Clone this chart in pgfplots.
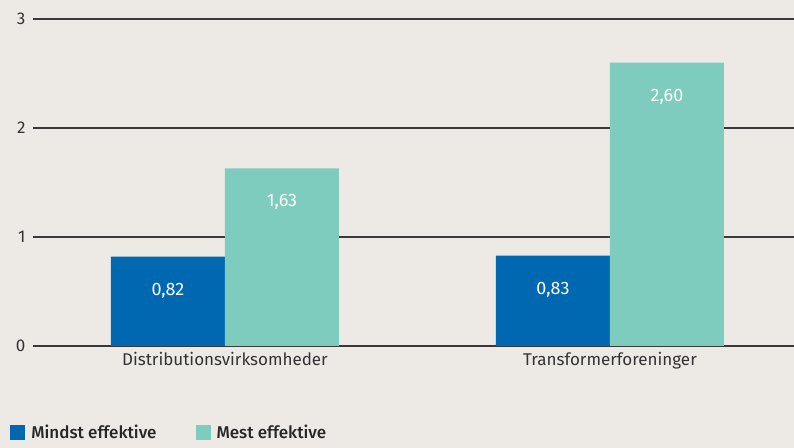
\documentclass[border=0pt]{standalone}
\usepackage{pgfplots}
\pgfplotsset{compat=1.18}
\usepackage{fontspec}
\setmainfont{Fira Sans}
\newfontfamily\medfont{Fira Sans}[UprightFont={* Medium}]
\definecolor{bg}{HTML}{EDEAE5}
\definecolor{mindst}{HTML}{0068B1}
\definecolor{mest}{HTML}{7DCCBE}
\definecolor{gridc}{HTML}{3A3838}
\begin{document}
\begin{tikzpicture}
  \fill[bg] (0,0) rectangle (794bp,448bp);
  \useasboundingbox (0,0) rectangle (794bp,448bp);
  \begin{axis}[
      at={(33bp,102bp)}, anchor=south west,
      scale only axis,
      width=761bp, height=327bp,
      ybar=0pt, bar width=114bp,
      xmin=-0.4987, xmax=1.478,
      ymin=0, ymax=3,
      xtick={0,1},
      xticklabels={Distributionsvirksomheder, Transformerforeninger},
      ytick={0,1,2,3},
      ymajorgrids,
      grid style={gridc, line width=1.1bp},
      axis line style={draw=none},
      major tick length=0pt,
      tick label style={font=\fontsize{17bp}{20bp}\selectfont, text=black!80},
      yticklabel style={xshift=-4bp},
      xticklabel style={yshift=-3bp},
      /pgf/number format/assume math mode=true,
      /pgf/number format/use comma,
      nodes near coords,
      nodes near coords style={
        /pgf/number format/fixed,
        /pgf/number format/fixed zerofill,
        /pgf/number format/precision=2,
        anchor=center, yshift=-34bp, text=white,
        font=\fontsize{18bp}{21bp}\selectfont},
      legend style={at={(axis description cs:-0.030,-0.236)}, anchor=north west,
        draw=none, fill=none, legend columns=2, inner sep=0pt,
        font=\fontsize{17bp}{20bp}\selectfont\medfont, text=black!85,
        /tikz/every odd column/.append style={column sep=4bp},
        /tikz/every even column/.append style={column sep=37bp}},
      legend image code/.code={\fill[#1] (0bp,-7.5bp) rectangle (15bp,7.5bp);},
    ]
    \addplot[fill=mindst, draw=none] coordinates {(0,0.82) (1,0.83)};
    \addplot[fill=mest, draw=none] coordinates {(0,1.63) (1,2.60)};
    \legend{Mindst effektive, Mest effektive}
  \end{axis}
\end{tikzpicture}
\end{document}
